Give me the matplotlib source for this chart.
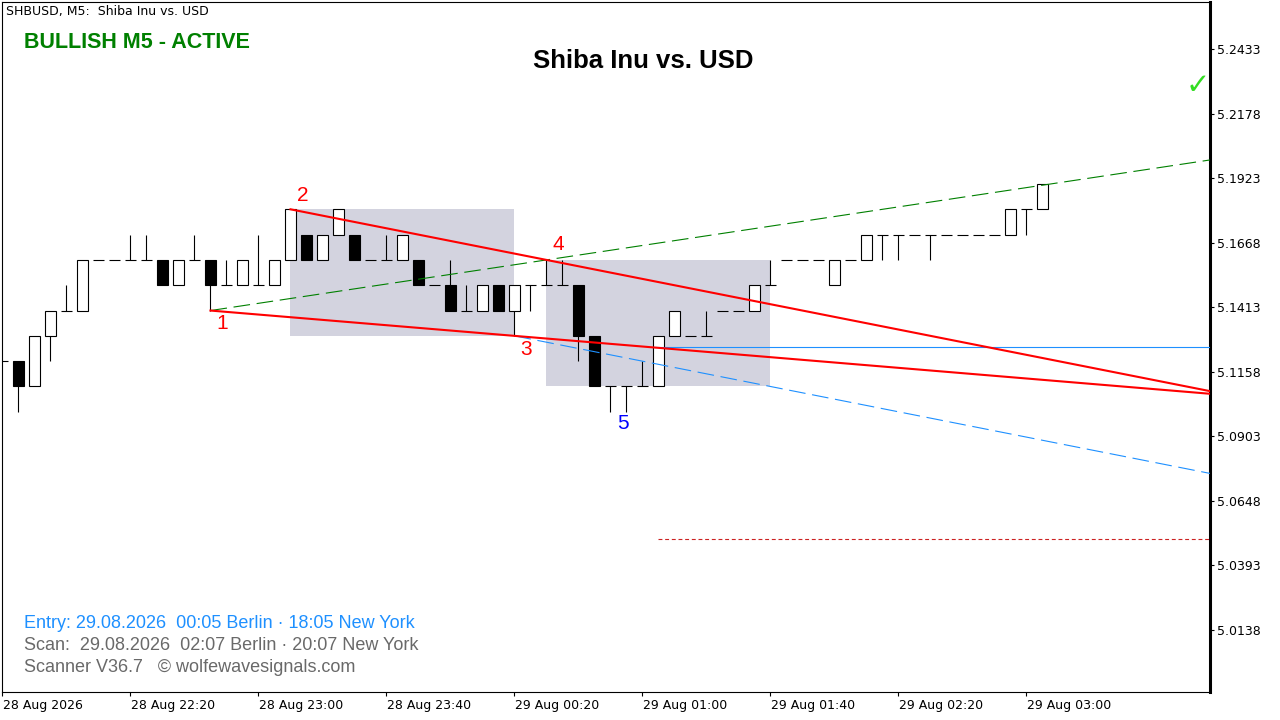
import matplotlib
matplotlib.use('Agg')
import matplotlib.pyplot as plt
import matplotlib.transforms as mtransforms
from matplotlib.patches import Rectangle
import pandas as pd

# M5 candles, 28 Aug 21:40 .. 29 Aug 03:05 (chart time)
opens = [5.12, 5.12, 5.11, 5.13, 5.14, 5.14, 5.16, 5.16, 5.16, 5.16, 5.16,
         5.15, 5.16, 5.16, 5.15, 5.15, 5.15, 5.15, 5.16, 5.17, 5.16, 5.17,
         5.17, 5.16, 5.16, 5.16, 5.16, 5.15, 5.15, 5.14, 5.14, 5.15, 5.14,
         5.15, 5.15, 5.15, 5.15, 5.13, 5.11, 5.11, 5.11, 5.11, 5.13, 5.13,
         5.13, 5.14, 5.14, 5.14, 5.15, 5.16, 5.16, 5.16, 5.15, 5.16, 5.16,
         5.17, 5.17, 5.17, 5.17, 5.17, 5.17, 5.17, 5.17, 5.17, 5.18, 5.18]
highs = [5.12, 5.12, 5.13, 5.14, 5.15, 5.16, 5.16, 5.16, 5.17, 5.17, 5.16,
         5.16, 5.17, 5.16, 5.16, 5.16, 5.17, 5.16, 5.18, 5.17, 5.17, 5.18,
         5.17, 5.16, 5.17, 5.17, 5.16, 5.15, 5.16, 5.15, 5.15, 5.15, 5.15,
         5.15, 5.16, 5.16, 5.15, 5.13, 5.11, 5.11, 5.12, 5.13, 5.14, 5.13,
         5.14, 5.14, 5.14, 5.15, 5.16, 5.16, 5.16, 5.16, 5.16, 5.16, 5.17,
         5.17, 5.17, 5.17, 5.17, 5.17, 5.17, 5.17, 5.17, 5.18, 5.18, 5.19]
lows = [5.12, 5.10, 5.11, 5.12, 5.14, 5.14, 5.16, 5.16, 5.16, 5.16, 5.15,
        5.15, 5.16, 5.14, 5.15, 5.15, 5.15, 5.15, 5.16, 5.16, 5.16, 5.17,
        5.16, 5.16, 5.16, 5.16, 5.15, 5.15, 5.14, 5.14, 5.14, 5.14, 5.13,
        5.14, 5.15, 5.15, 5.12, 5.11, 5.10, 5.10, 5.11, 5.11, 5.13, 5.13,
        5.13, 5.14, 5.14, 5.14, 5.15, 5.16, 5.16, 5.16, 5.15, 5.16, 5.16,
        5.16, 5.16, 5.17, 5.16, 5.17, 5.17, 5.17, 5.17, 5.17, 5.17, 5.18]
closes = [5.12, 5.11, 5.13, 5.14, 5.14, 5.16, 5.16, 5.16, 5.16, 5.16, 5.15,
          5.16, 5.16, 5.15, 5.15, 5.16, 5.15, 5.16, 5.18, 5.16, 5.17, 5.18,
          5.16, 5.16, 5.16, 5.17, 5.15, 5.15, 5.14, 5.14, 5.15, 5.14, 5.15,
          5.15, 5.15, 5.15, 5.13, 5.11, 5.11, 5.11, 5.11, 5.13, 5.14, 5.13,
          5.13, 5.14, 5.14, 5.15, 5.15, 5.16, 5.16, 5.16, 5.16, 5.16, 5.17,
          5.17, 5.17, 5.17, 5.17, 5.17, 5.17, 5.17, 5.17, 5.18, 5.18, 5.19]
times = pd.date_range('2026-08-28 21:40', periods=len(opens), freq='5min')

# wolfe wave points (candle time, price)
wave_labels = ['1', '2', '3', '4', '5']
wave_times = ['2026-08-28 22:45', '2026-08-28 23:10', '2026-08-29 00:20',
              '2026-08-29 00:30', '2026-08-29 00:50']
wave_prices = [5.14, 5.18, 5.13, 5.16, 5.10]
wave_colors = ['red', 'red', 'red', 'red', 'blue']

# zones (start time, end time, top, bottom)
zone_starts = ['2026-08-28 23:10', '2026-08-29 00:30']
zone_ends = ['2026-08-29 00:20', '2026-08-29 01:40']
zone_tops = [5.18, 5.16]
zone_bottoms = [5.13, 5.11]

entry_time = '2026-08-29 01:05'
entry_price = 5.1256
target_price = 5.0497

ytick_vals = [5.0138, 5.0393, 5.0648, 5.0903, 5.1158, 5.1413, 5.1668, 5.1923, 5.2178, 5.2433]
xtick_times = ['2026-08-28 21:40', '2026-08-28 22:20', '2026-08-28 23:00', '2026-08-28 23:40',
               '2026-08-29 00:20', '2026-08-29 01:00', '2026-08-29 01:40', '2026-08-29 02:20',
               '2026-08-29 03:00']
xtick_labels = ['28 Aug 2026', '28 Aug 22:20', '28 Aug 23:00', '28 Aug 23:40', '29 Aug 00:20',
                '29 Aug 01:00', '29 Aug 01:40', '29 Aug 02:20', '29 Aug 03:00']

def idx(t):
    # shift so that the first fully visible candle is at x=0
    return times.get_loc(pd.Timestamp(t)) - 1

fig = plt.figure(figsize=(12.8, 7.2), dpi=100)
ax = fig.add_axes([2 / 1280, 28 / 720, 1208 / 1280, 690 / 720])
XMIN, XMAX = -1.03, 74.47
ax.set_xlim(XMIN, XMAX)
ax.set_ylim(4.9893, 5.2619)

# zones
for s, e, t, b in zip(zone_starts, zone_ends, zone_tops, zone_bottoms):
    ax.add_patch(Rectangle((idx(s), b), idx(e) - idx(s), t - b,
                           facecolor='#d3d3df', edgecolor='none', zorder=1))

# candles
w = 0.33
for i in range(len(opens)):
    x = i - 1
    o, h, l, c = opens[i], highs[i], lows[i], closes[i]
    ax.vlines(x, l, h, color='black', lw=0.8, zorder=2)
    if o == c:
        ax.hlines(o, x - w - 0.03, x + w + 0.03, color='black', lw=0.8, zorder=3)
    else:
        fc = 'white' if c > o else 'black'
        ax.add_patch(Rectangle((x - w, min(o, c)), 2 * w, abs(c - o),
                               facecolor=fc, edgecolor='black', lw=0.8, zorder=3))

p = [(idx(t), v) for t, v in zip(wave_times, wave_prices)]

def extend(pa, pb, x_end=XMAX):
    slope = (pb[1] - pa[1]) / (pb[0] - pa[0])
    return [pa[0], x_end], [pa[1], pa[1] + slope * (x_end - pa[0])]

# 1-3 and 2-4 lines
xs, ys = extend(p[0], p[2])
ax.plot(xs, ys, color='red', lw=1.5, zorder=5)
xs, ys = extend(p[1], p[3])
ax.plot(xs, ys, color='red', lw=1.5, zorder=5)
# 1-4 target line
xs, ys = extend(p[0], p[3])
ax.plot(xs, ys, color='green', lw=0.8, ls=(0, (15, 6)), zorder=4)
# parallel to 2-4 through 3
slope24 = (p[3][1] - p[1][1]) / (p[3][0] - p[1][0])
ax.plot([p[2][0], XMAX], [p[2][1], p[2][1] + slope24 * (XMAX - p[2][0])],
        color='#1e90ff', lw=0.8, ls=(0, (15, 6)), zorder=4)
# entry / target levels
ax.plot([idx(entry_time) - w, XMAX], [entry_price, entry_price], color='#1e90ff', lw=0.8, zorder=4)
ax.plot([idx(entry_time), XMAX], [target_price, target_price], color='#cc2222', lw=0.8,
        ls=(0, (3.5, 2.5)), zorder=4)

# wave labels
offs = [-13, 14, -14, 15, -12]
for (x, y), lab, col, dy in zip(p, wave_labels, wave_colors, offs):
    ax.annotate(lab, (x, y), xytext=(12, dy), textcoords='offset pixels',
                ha='center', va='center', color=col, fontsize=15,
                family='Liberation Sans', zorder=6)

# axes styling
for s in ['top', 'left', 'bottom']:
    ax.spines[s].set_linewidth(0.8)
ax.spines['right'].set_linewidth(2.2)
ax.yaxis.tick_right()
ax.set_yticks(ytick_vals)
ax.set_yticklabels(['%.4f' % v for v in ytick_vals])
ax.set_xticks([idx(t) for t in xtick_times])
ax.set_xticklabels(xtick_labels)
ax.tick_params(axis='both', direction='out', length=3, width=0.8, labelsize=9,
               colors='black', pad=2)
shift = mtransforms.ScaledTranslation(1 / 100, 0, fig.dpi_scale_trans)
for lab in ax.get_xticklabels():
    lab.set_horizontalalignment('left')
    lab.set_transform(lab.get_transform() + shift)

def ftext(x, y, s, **kw):
    fig.text(x / 1280, 1 - y / 720, s, va='center', **kw)

ftext(6, 12, 'SHBUSD, M5:  Shiba Inu vs. USD', fontsize=9, color='black')
ftext(24, 42, 'BULLISH M5 - ACTIVE', fontsize=15.5, fontweight='bold', color='green',
      family='Liberation Sans')
ftext(643, 61, 'Shiba Inu vs. USD', fontsize=18.5, fontweight='bold', color='black',
      family='Liberation Sans', ha='center')
ftext(1198, 86, '\u2713', fontsize=21, color='#33dd22', ha='center')
ftext(24, 623, 'Entry: 29.08.2026  00:05 Berlin \u00b7 18:05 New York', fontsize=13,
      color='#1e90ff', family='Liberation Sans')
ftext(24, 645, 'Scan:  29.08.2026  02:07 Berlin \u00b7 20:07 New York', fontsize=13,
      color='#696969', family='Liberation Sans')
ftext(24, 667, 'Scanner V36.7   \u00a9 wolfewavesignals.com', fontsize=13,
      color='#696969', family='Liberation Sans')

fig.savefig('out.png', dpi=100, facecolor='white')
